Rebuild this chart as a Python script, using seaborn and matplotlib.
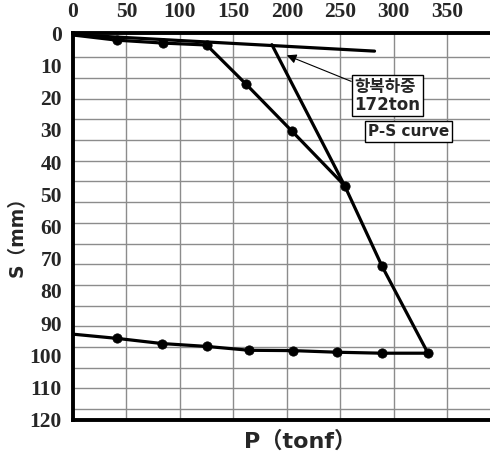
import numpy as np
import pandas as pd
import matplotlib
matplotlib.use("Agg")
import matplotlib.pyplot as plt
import seaborn as sns

sns.set_style("white")

# load / unload readings (P in tonf, S in mm)
load_p = [0, 41, 84, 125, 162, 205, 254, 289, 332]
load_s = [0.6, 2.2, 3.1, 3.7, 15.9, 30.5, 47.3, 72.3, 99.3]
unload_p = [332, 289, 247, 206, 165, 125, 83, 41, 0]
unload_s = [99.3, 99.3, 99.0, 98.5, 98.4, 97.2, 96.3, 94.7, 93.4]

# tangent lines used to find the yield load
tan1_p = [0, 282]
tan1_s = [0.5, 5.6]
tan2_p = [186, 254]
tan2_s = [3.6, 47.3]

x_ticks = [0, 50, 100, 150, 200, 250, 300, 350]
y_ticks = [0, 10, 20, 30, 40, 50, 60, 70, 80, 90, 100, 110, 120]

yield_label = "항복하중\n172ton"
curve_label = "P-S curve"

fam = ["DejaVu Sans", "Noto Sans CJK KR"]

load = pd.DataFrame({"P": load_p, "S": load_s})
unload = pd.DataFrame({"P": unload_p, "S": unload_s})
pts = pd.concat([load.iloc[1:], unload.iloc[1:-1]])

fig = plt.figure(figsize=(4.9, 4.53), dpi=100)
ax = fig.add_axes([0.149, 0.073, 0.851, 0.854])

lw = 2.3
sns.lineplot(data=load, x="P", y="S", sort=False, color="black", lw=lw, ax=ax)
sns.lineplot(data=unload, x="P", y="S", sort=False, color="black", lw=lw, ax=ax)
sns.lineplot(x=tan1_p, y=tan1_s, sort=False, color="black", lw=lw, ax=ax)
sns.lineplot(x=tan2_p, y=tan2_s, sort=False, color="black", lw=lw, ax=ax)
sns.scatterplot(data=pts, x="P", y="S", color="black", s=45, edgecolor="black",
                zorder=5, ax=ax)

ax.set_xlim(0, 390)
ax.set_ylim(120, 0)
ax.xaxis.tick_top()
ax.set_xticks(x_ticks)
ax.set_yticks(y_ticks)
ax.set_yticks(np.arange(7.5, 120, 6.42), minor=True)
ax.tick_params(length=0, pad=8)
ax.tick_params(which="minor", length=0)
for lab in ax.get_xticklabels() + ax.get_yticklabels():
    lab.set_fontfamily("Liberation Serif")
    lab.set_fontweight("bold")
    lab.set_fontsize(15.5)

ax.grid(False)
for xv in x_ticks[1:]:
    ax.axvline(xv, color="0.55", lw=1, zorder=0)
ax.grid(True, which="minor", axis="y", color="0.55", lw=1, zorder=0)

for side in ["left", "top", "bottom"]:
    ax.spines[side].set_linewidth(2.8)
    ax.spines[side].set_color("black")
ax.spines["right"].set_visible(False)

ax.set_xlabel("P（tonf）", fontfamily=fam, fontweight="bold", fontsize=16)
ax.xaxis.set_label_position("bottom")
ax.xaxis.set_label_coords(0.544, -0.028)
ax.set_ylabel("S（mm）", fontfamily=fam, fontweight="bold", fontsize=13.5)
ax.yaxis.set_label_coords(-0.11, 0.487)

ax.annotate(yield_label, xy=(200, 6.9), xytext=(263, 19.5),
            fontfamily=fam, fontweight="bold",
            fontsize=12, va="center", ha="left", linespacing=1.0,
            bbox=dict(boxstyle="square,pad=0.15", fc="white", ec="black", lw=1),
            arrowprops=dict(arrowstyle="-|>", color="black", lw=0.8,
                            mutation_scale=14, shrinkA=0, shrinkB=0))
ax.text(276, 30.5, curve_label, fontfamily=fam,
        fontweight="bold", fontsize=11, va="center", ha="left",
        bbox=dict(boxstyle="square,pad=0.2", fc="white", ec="black", lw=1))

fig.savefig("out.png", dpi=100)
